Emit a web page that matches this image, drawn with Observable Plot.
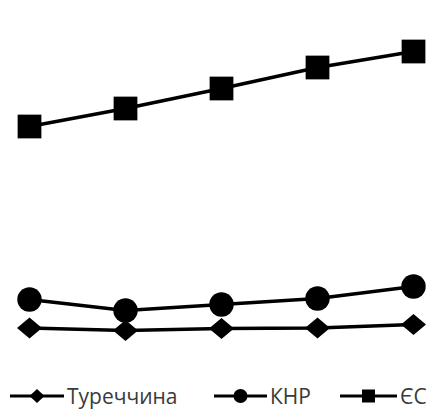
<!DOCTYPE html>
<html>
<head>
<meta charset="utf-8">
<script src="https://cdn.jsdelivr.net/npm/d3@7"></script>
<script src="https://cdn.jsdelivr.net/npm/@observablehq/plot@0.6"></script>
<style>
  body { margin: 0; background: #fff; }
  #wrap { position: relative; width: 430px; height: 410px; overflow: hidden; }
  .leg { position: absolute; top: 382px; height: 28px; display: flex; align-items: center;
         font-family: "Open Sans", sans-serif; font-size: 21px; color: #3a3a3a; }
  .leg span { line-height: 1; }
  .leg svg { display: block; }
</style>
</head>
<body>
<div id="wrap"></div>
<script>
const years = ["1", "2", "3", "4", "5"];
const seriesNames = ["Туреччина", "КНР", "ЄС"];
const turkey = [22.5, 20, 22, 22.5, 26];
const china = [51, 40, 46, 52, 64];
const eu = [224, 242, 262, 283, 299];

const diamondWide = {
  draw(ctx, size) {
    const r = Math.sqrt(size / Math.PI);
    ctx.moveTo(0, -r * 0.88);
    ctx.lineTo(r * 1.04, 0);
    ctx.lineTo(0, r * 0.88);
    ctx.lineTo(-r * 1.04, 0);
    ctx.closePath();
  }
};

const rows = [];
[turkey, china, eu].forEach((vals, si) => {
  vals.forEach((v, i) => rows.push({series: seriesNames[si], year: years[i], value: v}));
});
const bySeries = name => rows.filter(d => d.series === name);

const chart = Plot.plot({
  width: 430,
  height: 382,
  marginLeft: 28.5,
  marginRight: 17,
  marginTop: 0,
  marginBottom: 32,
  x: {type: "point", domain: years, padding: 0, axis: null},
  y: {domain: [0, 350], axis: null},
  marks: [
    Plot.line(rows, {x: "year", y: "value", z: "series", stroke: "black", strokeWidth: 3.5}),
    Plot.dot(bySeries("Туреччина"), {x: "year", y: "value", symbol: diamondWide, r: 12, fill: "black", stroke: "none"}),
    Plot.dot(bySeries("КНР"), {x: "year", y: "value", symbol: "circle", r: 12.2, fill: "black", stroke: "none"}),
    Plot.dot(bySeries("ЄС"), {x: "year", y: "value", symbol: "square", r: 13.4, fill: "black", stroke: "none"})
  ]
});
const wrap = document.getElementById("wrap");
wrap.appendChild(chart);

const markerSvg = {
  "Туреччина": '<path d="M20,7 L27.5,14 L20,21 L12.5,14 Z" fill="black"/>',
  "КНР": '<circle cx="20" cy="14" r="7" fill="black"/>',
  "ЄС": '<rect x="13.5" y="7.5" width="13" height="13" fill="black"/>'
};
const legLeft = [10, 214, 340];
const lineW = [54, 53, 57];
seriesNames.forEach((name, i) => {
  const div = document.createElement("div");
  div.className = "leg";
  div.style.left = legLeft[i] + "px";
  const w = lineW[i];
  div.innerHTML = `<svg width="${w}" height="28" viewBox="0 0 ${w} 28">
    <line x1="0" y1="14" x2="${w}" y2="14" stroke="black" stroke-width="3.2"/>
    <g transform="translate(${w/2 - 20},0)">${markerSvg[name]}</g></svg>
    <span style="margin-left:3px">${name}</span>`;
  wrap.appendChild(div);
});
</script>
</body>
</html>
